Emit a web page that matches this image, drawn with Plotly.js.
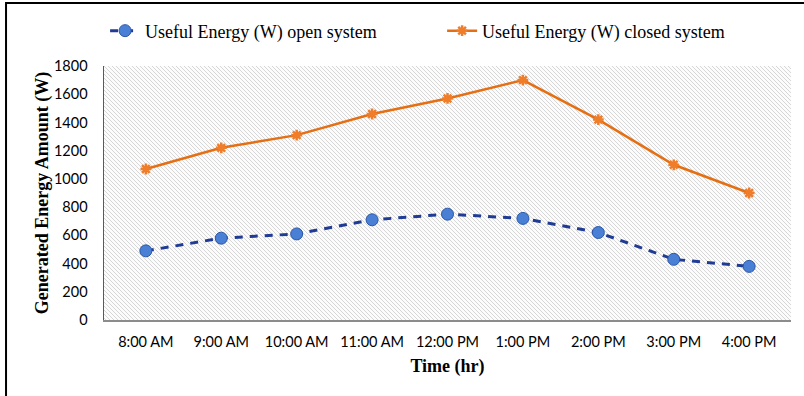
<!DOCTYPE html>
<html>
<head>
<meta charset="utf-8">
<script src="https://cdn.plot.ly/plotly-3.0.1.min.js"></script>
<style>html,body{margin:0;padding:0;background:#fff;}#chart{width:804px;height:396px;}</style>
</head>
<body>
<div id="chart"></div>
<script>
const categories = ["8:00 AM","9:00 AM","10:00 AM","11:00 AM","12:00 PM","1:00 PM","2:00 PM","3:00 PM","4:00 PM"];
const openSystem = [490, 580, 610, 710, 750, 720, 620, 430, 380];
const closedSystem = [1070, 1220, 1310, 1460, 1570, 1700, 1420, 1100, 900];
const yTicks = [0, 200, 400, 600, 800, 1000, 1200, 1400, 1600, 1800];

const svg = '<svg xmlns="http://www.w3.org/2000/svg" width="687" height="254">' +
  '<defs><pattern id="p" width="4" height="4" patternUnits="userSpaceOnUse">' +
  '<path d="M-1,-1 L5,5 M-1,3 L1,5 M3,-1 L5,1" stroke="#d6d6d6" stroke-width="1"/></pattern></defs>' +
  '<rect width="687" height="254" fill="#fcfcfc"/><rect width="687" height="254" fill="url(#p)"/></svg>';
const bgSrc = 'data:image/svg+xml;base64,' + btoa(svg);

const traces = [
  {
    x: categories, y: openSystem, type: 'scatter', mode: 'lines+markers',
    name: 'Useful Energy (W) open system',
    line: {color: '#1f3b95', width: 3, dash: '8px,7px'},
    marker: {symbol: 'circle', size: 12, color: '#4a7fd6', line: {color: '#2a57a8', width: 1}}
  },
  {
    x: categories, y: closedSystem, type: 'scatter', mode: 'lines+markers',
    name: 'Useful Energy (W) closed system',
    line: {color: '#e56f12', width: 2.5},
    marker: {symbol: 'asterisk-open', size: 9, color: '#f07d2a', line: {color: '#e56f12', width: 2.5}}
  }
];

const layout = {
  width: 804, height: 396,
  margin: {l: 104, r: 13, t: 66, b: 76},
  paper_bgcolor: '#ffffff',
  plot_bgcolor: 'rgba(0,0,0,0)',
  showlegend: true,
  legend: {
    orientation: 'h', x: 0.0016, xanchor: 'left', y: 1.138, yanchor: 'middle',
    font: {family: 'Liberation Serif, Times New Roman, serif', size: 18, color: '#000'},
    entrywidth: 292, entrywidthmode: 'pixels', bgcolor: 'rgba(0,0,0,0)'
  },
  xaxis: {
    type: 'category', showgrid: false, zeroline: false,
    showline: true, linecolor: '#8c8c8c', linewidth: 2,
    ticks: '', tickfont: {family: 'Lato, Carlito, sans-serif', size: 14.5, color: '#000'},
    ticklabelstandoff: 8,
    title: {text: '<b>Time (hr)</b>', font: {family: 'Liberation Serif, Times New Roman, serif', size: 18, color: '#000'}, standoff: 10},
    fixedrange: true
  },
  yaxis: {
    range: [0, 1800], tickvals: yTicks, ticktext: yTicks.map(String),
    showgrid: false, zeroline: false,
    showline: true, linecolor: '#595959', linewidth: 1.5,
    ticks: '', tickfont: {family: 'Lato, Carlito, sans-serif', size: 14.5, color: '#000'},
    ticklabelstandoff: 12,
    title: {text: '<b>Generated Energy Amount (W)</b>', font: {family: 'Liberation Serif, Times New Roman, serif', size: 18, color: '#000'}, standoff: 0},
    fixedrange: true
  },
  images: [{
    source: bgSrc, xref: 'paper', yref: 'paper', x: 0, y: 1, sizex: 1, sizey: 1,
    xanchor: 'left', yanchor: 'top', sizing: 'stretch', layer: 'below'
  }],
  shapes: [{
    type: 'path', xref: 'paper', yref: 'paper',
    path: 'M -0.1426,-0.31 L -0.1426,1.248 L 1.03,1.248',
    line: {color: '#000', width: 2}
  }]
};

Plotly.newPlot('chart', traces, layout, {displayModeBar: false, staticPlot: true});
</script>
</body>
</html>
